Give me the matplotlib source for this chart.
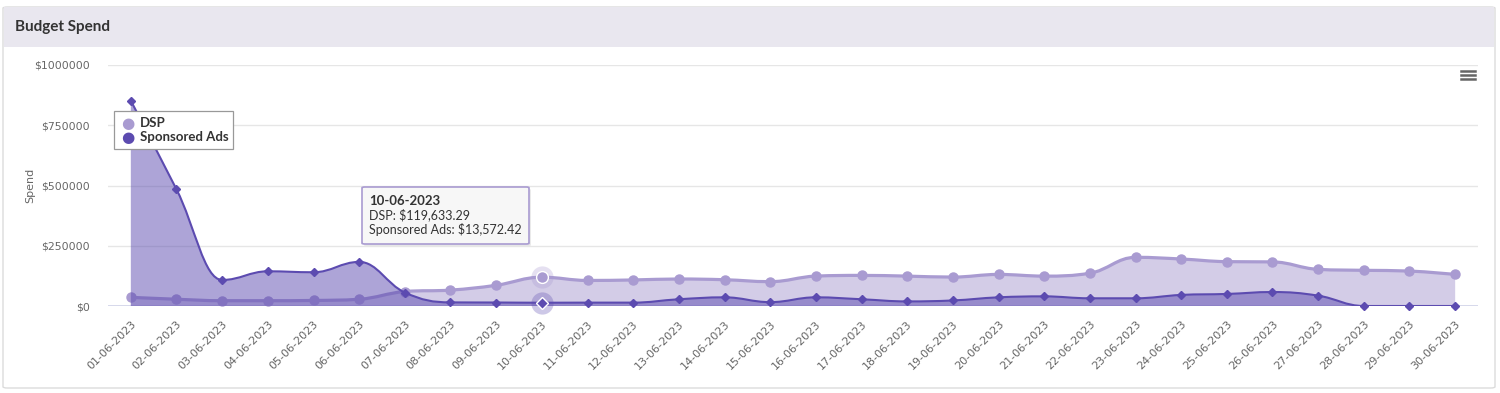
import numpy as np
import matplotlib
matplotlib.use("Agg")
import matplotlib.pyplot as plt
from matplotlib.path import Path
from matplotlib.patches import PathPatch, FancyBboxPatch, Rectangle

# Data (June 2023, daily)
dates = ["%02d-06-2023" % d for d in range(1, 31)]
dsp = [36000, 28000, 22000, 22000, 23000, 28000, 60000, 66000, 86000, 119633.29,
       106000, 108000, 112000, 109000, 101000, 124000, 127000, 124000, 120000, 131000,
       124000, 136000, 202000, 195000, 184000, 183000, 152000, 148000, 145000, 131000]
sponsored = [852000, 484000, 108000, 144000, 140000, 183000, 56000, 15000, 14500, 13572.42,
             14000, 14000, 28000, 36000, 16000, 36000, 28000, 19000, 23000, 36000,
             40000, 32000, 32000, 46000, 50000, 58000, 43000, 0, 0, 0]
yticks = [0, 250000, 500000, 750000, 1000000]
hover_idx = 9

dsp_color = "#a99bd1"
spon_color = "#5c4bb0"

W, H = 1500, 393


def fx(x):
    return x / W


def fy(y):
    return 1 - y / H


def spline_path(xs, ys, close_base=None):
    # highcharts-style spline (smoothing 1.5)
    n = len(xs)
    lc = [(xs[i], ys[i]) for i in range(n)]
    rc = [(xs[i], ys[i]) for i in range(n)]
    s = 1.5
    for i in range(1, n - 1):
        x, y = xs[i], ys[i]
        lx, ly = xs[i - 1], ys[i - 1]
        nx, ny = xs[i + 1], ys[i + 1]
        lcx = (s * x + lx) / (s + 1)
        lcy = (s * y + ly) / (s + 1)
        rcx = (s * x + nx) / (s + 1)
        rcy = (s * y + ny) / (s + 1)
        corr = ((rcy - lcy) * (rcx - x)) / (rcx - lcx) + y - rcy
        lcy += corr
        rcy += corr
        if lcy > ly and lcy > y:
            lcy = max(ly, y)
            rcy = 2 * y - lcy
        elif lcy < ly and lcy < y:
            lcy = min(ly, y)
            rcy = 2 * y - lcy
        if rcy > ny and rcy > y:
            rcy = max(ny, y)
            lcy = 2 * y - rcy
        elif rcy < ny and rcy < y:
            rcy = min(ny, y)
            lcy = 2 * y - rcy
        lc[i] = (lcx, lcy)
        rc[i] = (rcx, rcy)
    verts = [(xs[0], ys[0])]
    codes = [Path.MOVETO]
    for i in range(1, n):
        verts += [rc[i - 1], lc[i], (xs[i], ys[i])]
        codes += [Path.CURVE4] * 3
    if close_base is not None:
        verts += [(xs[-1], close_base), (xs[0], close_base), (xs[0], ys[0])]
        codes += [Path.LINETO, Path.LINETO, Path.CLOSEPOLY]
    return Path(verts, codes)


fig = plt.figure(figsize=(W / 100, H / 100), dpi=100)

# card + header
fig.patches.append(FancyBboxPatch((fx(3), fy(388)), fx(1492), (388 - 7) / H,
                                  boxstyle="round,pad=0,rounding_size=0.003",
                                  transform=fig.transFigure, facecolor="white",
                                  edgecolor="#dcdcdc", lw=1, zorder=-2))
fig.patches.append(Rectangle((fx(4), fy(47)), fx(1490), 40 / H, transform=fig.transFigure,
                             facecolor="#e9e7ef", edgecolor="none", zorder=-1))
fig.text(fx(15), fy(27), "Budget Spend", fontsize=11, fontweight="bold",
         family="Lato", color="#333333", va="center")

ax = fig.add_axes([fx(108), fy(306), (1478 - 108) / W, (306 - 65) / H])
ax.set_zorder(5)
ax.set_facecolor("none")
x = np.arange(len(dates))
ax.set_xlim(-0.5, len(dates) - 0.5)
ax.set_ylim(0, 1000000)

# areas
ax.add_patch(PathPatch(spline_path(x, dsp, 0), facecolor=dsp_color, alpha=0.5,
                       edgecolor="none", zorder=2))
ax.add_patch(PathPatch(spline_path(x, dsp), facecolor="none", edgecolor=dsp_color,
                       lw=2.3, zorder=3))
ax.plot(x, dsp, "o", color=dsp_color, ms=6.5, zorder=4, clip_on=False)

ax.add_patch(PathPatch(spline_path(x, sponsored, 0), facecolor=spon_color, alpha=0.5,
                       edgecolor="none", zorder=5))
ax.add_patch(PathPatch(spline_path(x, sponsored), facecolor="none", edgecolor=spon_color,
                       lw=1.5, zorder=6))
ax.plot(x, sponsored, "D", color=spon_color, ms=3.6, zorder=7, clip_on=False)

# hover state
ax.plot(x[hover_idx], dsp[hover_idx], "o", color=dsp_color, ms=16, alpha=0.3, mec="none",
        zorder=8, clip_on=False)
ax.plot(x[hover_idx], dsp[hover_idx], "o", color=dsp_color, ms=8.5, mec="white", mew=1,
        zorder=9, clip_on=False)
ax.plot(x[hover_idx], sponsored[hover_idx], "o", color=spon_color, ms=16, alpha=0.3, mec="none",
        zorder=8, clip_on=False)
ax.plot(x[hover_idx], sponsored[hover_idx], "D", color=spon_color, ms=6.5, mec="white", mew=1,
        zorder=9, clip_on=False)

# axes styling
ax.set_yticks(yticks)
ax.set_yticklabels(["$%d" % v for v in yticks], fontsize=7.8, color="#666666")
ax.grid(axis="y", color="#e6e6e6", lw=1, zorder=0)
ax.axhline(0, color="#ccd0ea", lw=1.2, zorder=1)
ax.set_xticks(x)
ax.set_xticklabels(dates, rotation=45, ha="right", rotation_mode="anchor",
                   fontsize=8, color="#666666")
ax.tick_params(axis="both", length=0, pad=9)
ax.tick_params(axis="y", pad=13)
for sp in ax.spines.values():
    sp.set_visible(False)
fig.text(fx(30), fy(185), "Spend", rotation=90, fontsize=8, color="#666666",
         ha="center", va="center")

# legend box
fig.patches.append(Rectangle((fx(114), fy(149)), fx(119), 38 / H, transform=fig.transFigure,
                             facecolor="white", edgecolor="#999999", lw=0.9, zorder=20))
legend_items = [("DSP", dsp_color), ("Sponsored Ads", spon_color)]
for i, (name, c) in enumerate(legend_items):
    yy = 123 + i * 14
    fig.text(fx(128), fy(yy), "\u25cf", color=c, fontsize=11, ha="center", va="center", zorder=21)
    fig.text(fx(140), fy(yy), name, fontsize=9.5, fontweight="bold", family="Lato",
             color="#333333", va="center", zorder=21)

# tooltip
fig.patches.append(FancyBboxPatch((fx(364), fy(246)), fx(167), 57 / H,
                                  boxstyle="round,pad=0,rounding_size=0.002",
                                  transform=fig.transFigure, facecolor="#cccccc",
                                  edgecolor="none", alpha=0.4, zorder=20))
fig.patches.append(FancyBboxPatch((fx(362), fy(244)), fx(167), 57 / H,
                                  boxstyle="round,pad=0,rounding_size=0.002",
                                  transform=fig.transFigure, facecolor="#f7f7f7",
                                  edgecolor=dsp_color, lw=1.2, zorder=21))
fig.text(fx(369), fy(201), dates[hover_idx], fontsize=9.5, fontweight="bold",
         family="Lato", color="#333333", va="center", zorder=22)
fig.text(fx(369), fy(215), "DSP: ${:,.2f}".format(dsp[hover_idx]), fontsize=9,
         family="Lato", color="#333333", va="center", zorder=22)
fig.text(fx(369), fy(230), "Sponsored Ads: ${:,.2f}".format(sponsored[hover_idx]), fontsize=9,
         family="Lato", color="#333333", va="center", zorder=22)

# menu icon
for dy in (-4, 0, 4):
    fig.add_artist(plt.Line2D([fx(1461), fx(1475)], [fy(75 + dy), fy(75 + dy)],
                              color="#666666", lw=1.8, transform=fig.transFigure))

fig.savefig("out.png", dpi=100)
